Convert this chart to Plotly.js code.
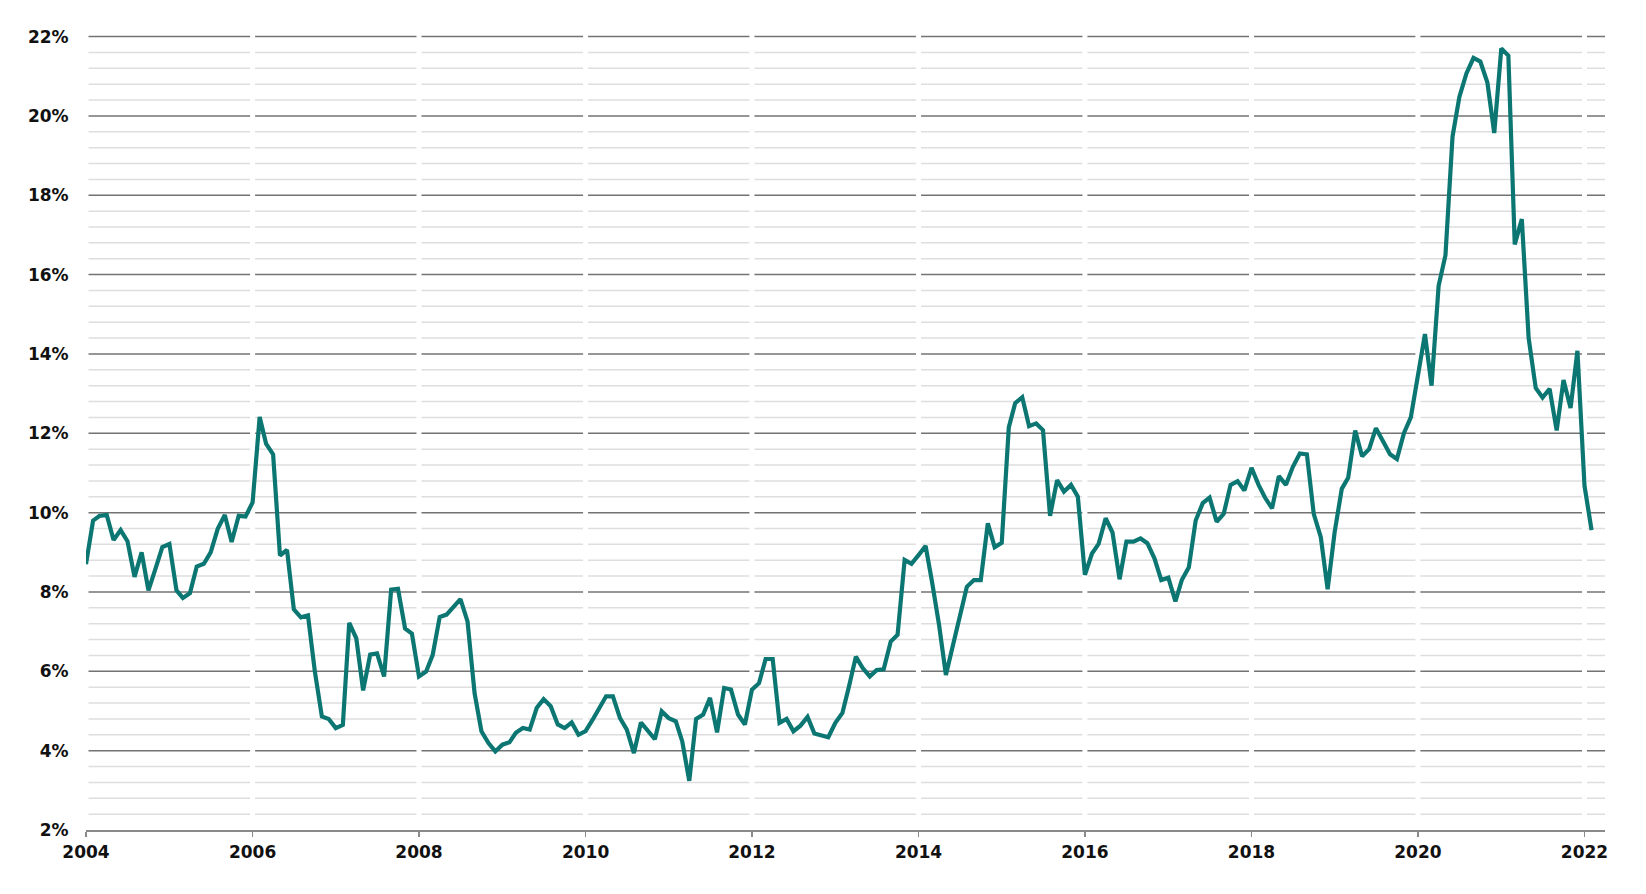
<!DOCTYPE html>
<html>
<head>
<meta charset="utf-8">
<script src="https://cdn.plot.ly/plotly-3.0.1.min.js"></script>
<style>html,body{margin:0;padding:0;background:#fff;}#chart{width:1646px;height:894px;}</style>
</head>
<body>
<div id="chart"></div>
<script>
// Monthly values (%), January to December of each year
const startMonth = '2004-01';
const v2004 = [8.7, 9.8, 9.92, 9.94, 9.31, 9.56, 9.28, 8.38, 9.0, 8.04, 8.59, 9.13];
const v2005 = [9.21, 8.04, 7.85, 7.97, 8.64, 8.71, 9.0, 9.59, 9.94, 9.26, 9.92, 9.9];
const v2006 = [10.26, 12.41, 11.74, 11.47, 8.92, 9.06, 7.56, 7.36, 7.41, 6.0, 4.86, 4.8];
const v2007 = [4.57, 4.65, 7.22, 6.83, 5.52, 6.42, 6.45, 5.87, 8.06, 8.08, 7.08, 6.95];
const v2008 = [5.87, 5.99, 6.41, 7.37, 7.43, 7.61, 7.82, 7.26, 5.45, 4.49, 4.19, 3.98];
const v2009 = [4.15, 4.21, 4.45, 4.57, 4.53, 5.08, 5.3, 5.12, 4.66, 4.57, 4.71, 4.4];
const v2010 = [4.49, 4.78, 5.08, 5.37, 5.37, 4.82, 4.53, 3.94, 4.71, 4.49, 4.29, 4.99];
const v2011 = [4.82, 4.74, 4.24, 3.24, 4.8, 4.91, 5.33, 4.46, 5.58, 5.54, 4.91, 4.66];
const v2012 = [5.54, 5.7, 6.31, 6.31, 4.7, 4.8, 4.49, 4.63, 4.85, 4.43, 4.38, 4.34];
const v2013 = [4.7, 4.95, 5.6, 6.37, 6.08, 5.87, 6.03, 6.05, 6.75, 6.92, 8.81, 8.71];
const v2014 = [8.93, 9.16, 8.26, 7.17, 5.91, 6.62, 7.38, 8.13, 8.3, 8.3, 9.73, 9.13];
const v2015 = [9.24, 12.15, 12.76, 12.91, 12.18, 12.25, 12.08, 9.92, 10.82, 10.53, 10.7, 10.4];
const v2016 = [8.43, 8.97, 9.21, 9.86, 9.5, 8.32, 9.27, 9.27, 9.35, 9.23, 8.85, 8.3];
const v2017 = [8.36, 7.76, 8.3, 8.62, 9.8, 10.24, 10.38, 9.77, 9.97, 10.7, 10.79, 10.56];
const v2018 = [11.13, 10.7, 10.38, 10.11, 10.92, 10.7, 11.15, 11.49, 11.47, 9.97, 9.38, 8.07];
const v2019 = [9.52, 10.6, 10.88, 12.07, 11.42, 11.6, 12.13, 11.8, 11.47, 11.35, 12.01, 12.4];
const v2020 = [13.5, 14.5, 13.2, 15.72, 16.49, 19.48, 20.48, 21.07, 21.46, 21.37, 20.84, 19.57];
const v2021 = [21.7, 21.52, 16.76, 17.4, 14.4, 13.14, 12.9, 13.12, 12.07, 13.34, 12.64, 14.08];
const v2022 = [10.68, 9.56];

const tickYears = ['2004', '2006', '2008', '2010', '2012', '2014', '2016', '2018', '2020', '2022'];

const values = [].concat(v2004, v2005, v2006, v2007, v2008, v2009, v2010, v2011, v2012,
  v2013, v2014, v2015, v2016, v2017, v2018, v2019, v2020, v2021, v2022);

const y0 = parseInt(startMonth.slice(0, 4), 10);
const m0 = parseInt(startMonth.slice(5, 7), 10) - 1;
const dates = values.map((_, i) => {
  const t = m0 + i;
  const yr = y0 + Math.floor(t / 12);
  const mo = (t % 12) + 1;
  return yr + '-' + String(mo).padStart(2, '0') + '-01';
});

const tickFont = {family: 'DejaVu Sans, Verdana, sans-serif', size: 17, color: '#111', weight: 'bold'};

// Gridlines drawn as shapes so that white breaks can sit on top of them at each year tick
const shapes = [];
for (let k = 1; k <= 50; k++) {
  const v = 2 + k * 0.4;
  const isMajor = k % 5 === 0;
  shapes.push({
    type: 'line', layer: 'below', xref: 'paper', yref: 'y',
    x0: 0, x1: 1, y0: v, y1: v,
    line: {color: isMajor ? '#737373' : '#dedede', width: 1.5}
  });
}
tickYears.forEach(yr => shapes.push({
  type: 'line', layer: 'below', xref: 'x', yref: 'paper',
  x0: yr + '-01-01', x1: yr + '-01-01', y0: 0.004, y1: 1.01,
  line: {color: '#ffffff', width: 5}
}));

const trace = {
  type: 'scatter', mode: 'lines', x: dates, y: values,
  line: {color: '#0c7772', width: 4.2},
  hoverinfo: 'skip'
};

const layout = {
  width: 1646, height: 894,
  margin: {l: 86, r: 41, t: 35, b: 64},
  paper_bgcolor: '#ffffff', plot_bgcolor: 'rgba(0,0,0,0)',
  showlegend: false,
  xaxis: {
    type: 'date', range: ['2004-01-01', '2022-04-01'],
    tick0: '2004-01-01', dtick: 'M24', tickformat: '%Y',
    showgrid: false, zeroline: false,
    showline: true, linecolor: '#8a8a8a', linewidth: 1.5,
    ticks: 'outside', ticklen: 5, tickwidth: 1.5, tickcolor: '#8a8a8a',
    tickfont: tickFont, ticklabelstandoff: 1
  },
  yaxis: {
    range: [2, 22.04], tick0: 2, dtick: 2, ticksuffix: '%',
    showgrid: false, zeroline: false, showline: false,
    ticks: 'outside', ticklen: 13, tickcolor: 'rgba(0,0,0,0)',
    tickfont: tickFont
  },
  shapes: shapes
};

Plotly.newPlot('chart', [trace], layout, {displayModeBar: false, staticPlot: true});
</script>
</body>
</html>
